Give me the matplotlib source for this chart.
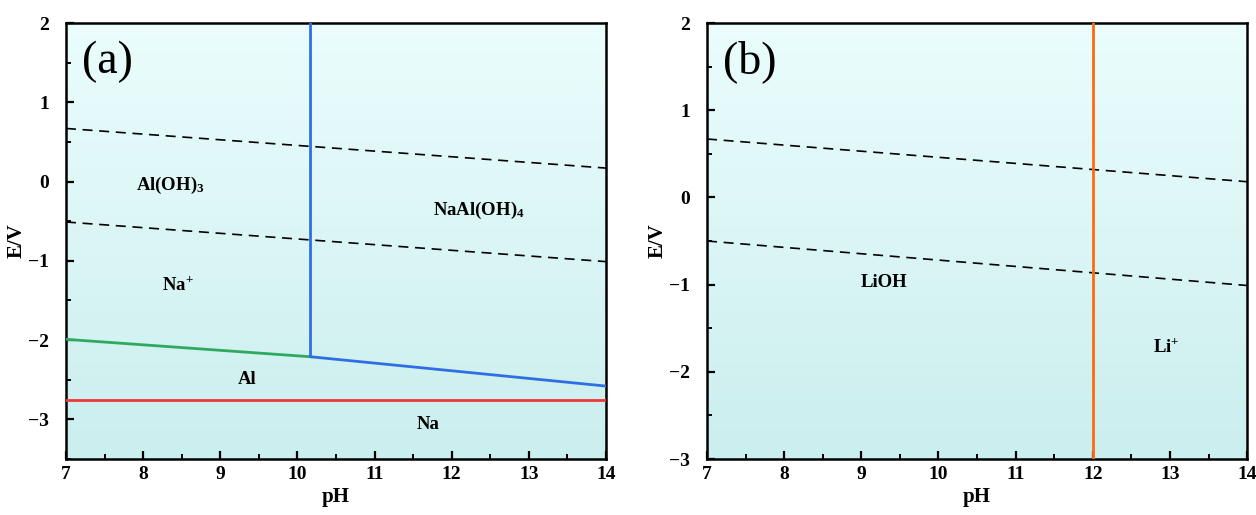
import numpy as np
import matplotlib
matplotlib.use("Agg")
import matplotlib.pyplot as plt
from matplotlib.colors import LinearSegmentedColormap
from matplotlib.ticker import MultipleLocator

plt.rcParams['font.family'] = ['Liberation Serif', 'DejaVu Serif']
plt.rcParams['font.weight'] = 'bold'
plt.rcParams['mathtext.fontset'] = 'custom'
plt.rcParams['mathtext.rm'] = 'Liberation Serif:bold'
plt.rcParams['mathtext.it'] = 'Liberation Serif:bold:italic'
plt.rcParams['mathtext.bf'] = 'Liberation Serif:bold'

# ---- data: panel (a) Na-Al-H2O ----
a_dash_upper_ph = [7, 14]
a_dash_upper_e = [0.67, 0.17]
a_dash_lower_ph = [7, 14]
a_dash_lower_e = [-0.51, -1.01]
a_green_ph = [7, 10.17]
a_green_e = [-1.99, -2.21]
a_blue_ph = [10.17, 10.17, 14]
a_blue_e = [2.0, -2.21, -2.58]
a_red_ph = [7, 14]
a_red_e = [-2.76, -2.76]
a_labels = ["Al(OH)$_3$", "NaAl(OH)$_4$", "Na$^{+}$", "Al", "Na"]
a_label_ph = [8.35, 12.35, 8.45, 9.35, 11.7]
a_label_e = [-0.05, -0.36, -1.3, -2.5, -3.06]

# ---- data: panel (b) Li-H2O ----
b_dash_upper_ph = [7, 14]
b_dash_upper_e = [0.67, 0.18]
b_dash_lower_ph = [7, 14]
b_dash_lower_e = [-0.5, -1.01]
b_orange_ph = [12, 12]
b_orange_e = [2.0, -3.0]
b_labels = ["LiOH", "Li$^{+}$"]
b_label_ph = [9.3, 12.95]
b_label_e = [-0.98, -1.72]

fig = plt.figure(figsize=(12.56, 5.15), dpi=100)
axA = fig.add_axes([0.0525, 0.1087, 0.4300, 0.8466])
axB = fig.add_axes([0.5629, 0.1087, 0.4300, 0.8466])

cmap = LinearSegmentedColormap.from_list("bg", ["#cbeeee", "#ebfdfd"])
grad = np.linspace(0, 1, 256).reshape(-1, 1)

def style(ax, ylo, yhi, tag):
    ax.set_xlim(7, 14)
    ax.set_ylim(ylo, yhi)
    ax.imshow(grad, extent=[7, 14, ylo, yhi], origin='lower', aspect='auto',
              cmap=cmap, zorder=0)
    ax.xaxis.set_major_locator(MultipleLocator(1))
    ax.xaxis.set_minor_locator(MultipleLocator(0.5))
    ax.yaxis.set_major_locator(MultipleLocator(1))
    ax.yaxis.set_minor_locator(MultipleLocator(0.5))
    ax.tick_params(which='major', direction='in', length=6, width=1.6,
                   labelsize=14, top=False, right=False, pad=5)
    ax.tick_params(axis='y', which='major', pad=12)
    ax.tick_params(which='minor', direction='in', length=3.5, width=1.4,
                   top=False, right=False)
    for s in ax.spines.values():
        s.set_linewidth(1.8)
    ax.set_xlabel("pH", fontsize=15, fontweight='bold', labelpad=3)
    ax.set_ylabel("E/V", fontsize=15, fontweight='bold')
    ax.yaxis.set_label_coords(-0.073, 0.5)
    for lab in ax.get_xticklabels() + ax.get_yticklabels():
        lab.set_fontweight('bold')
    ax.text(0.03, 0.96, tag, transform=ax.transAxes, fontsize=33,
            fontweight='normal', va='top', ha='left')

style(axA, -3.5, 2, "(a)")
style(axB, -3, 2, "(b)")

dash = dict(color='black', lw=1.2, ls=(0, (6, 4)), zorder=3)
axA.plot(a_dash_upper_ph, a_dash_upper_e, **dash)
axA.plot(a_dash_lower_ph, a_dash_lower_e, **dash)
axA.plot(a_green_ph, a_green_e, color='#2eaa5e', lw=2, zorder=4)
axA.plot(a_blue_ph, a_blue_e, color='#2f6fe4', lw=2, zorder=4)
axA.plot(a_red_ph, a_red_e, color='#ee3a36', lw=2, zorder=4)
for t, x, y in zip(a_labels, a_label_ph, a_label_e):
    axA.text(x, y, t, fontsize=13.5, fontweight='bold', ha='center', va='center', zorder=5)

axB.plot(b_dash_upper_ph, b_dash_upper_e, **dash)
axB.plot(b_dash_lower_ph, b_dash_lower_e, **dash)
axB.plot(b_orange_ph, b_orange_e, color='#ff6a10', lw=2, zorder=4)
for t, x, y in zip(b_labels, b_label_ph, b_label_e):
    axB.text(x, y, t, fontsize=13.5, fontweight='bold', ha='center', va='center', zorder=5)

fig.savefig("out.png", dpi=100)
